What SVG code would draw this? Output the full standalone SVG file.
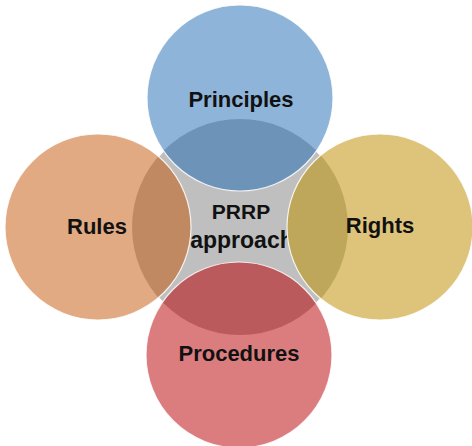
<svg xmlns="http://www.w3.org/2000/svg" width="472" height="446" viewBox="0 0 472 446">
  <style>
    .lbl { font-family: "Liberation Sans", Arial, sans-serif; font-weight: bold; font-size: 22px; fill: #111; text-anchor: middle; }
    .ctr { font-size: 21px; }
    .edge { fill: none; stroke: #ffffff; stroke-opacity: 0.85; stroke-width: 1.2; }
  </style>
  <defs>
    <clipPath id="hub">
      <circle cx="240" cy="227" r="108"/>
    </clipPath>
  </defs>
  <rect width="472" height="446" fill="#ffffff"/>
  <g id="center">
    <circle cx="240" cy="227" r="108" fill="#BFBFBF" stroke="#ffffff" stroke-width="1.5"/>
    <text class="lbl ctr" x="241" y="219">PRRP</text>
    <text class="lbl ctr" x="242" y="248" style="font-size:23px">approach</text>
  </g>
  <g id="principles">
    <circle cx="240" cy="98" r="93" fill="#8FB4D9"/>
    <circle cx="240" cy="98" r="93" fill="#6D94B8" clip-path="url(#hub)"/>
    <circle class="edge" cx="240" cy="98" r="93"/>
    <text class="lbl" x="241" y="107">Principles</text>
  </g>
  <g id="rules">
    <circle cx="98" cy="227" r="93" fill="#E1AA83"/>
    <circle cx="98" cy="227" r="93" fill="#C18961" clip-path="url(#hub)"/>
    <circle class="edge" cx="98" cy="227" r="93"/>
    <text class="lbl" x="97" y="234">Rules</text>
  </g>
  <g id="rights">
    <circle cx="380" cy="227" r="93" fill="#DDC47A"/>
    <circle cx="380" cy="227" r="93" fill="#BEA65A" clip-path="url(#hub)"/>
    <circle class="edge" cx="380" cy="227" r="93"/>
    <text class="lbl" x="380" y="233">Rights</text>
  </g>
  <g id="procedures">
    <circle cx="239" cy="355" r="93" fill="#DB7D7F"/>
    <circle cx="239" cy="355" r="93" fill="#BB5A5C" clip-path="url(#hub)"/>
    <circle class="edge" cx="239" cy="355" r="93"/>
    <text class="lbl" x="239" y="361">Procedures</text>
  </g>
</svg>
